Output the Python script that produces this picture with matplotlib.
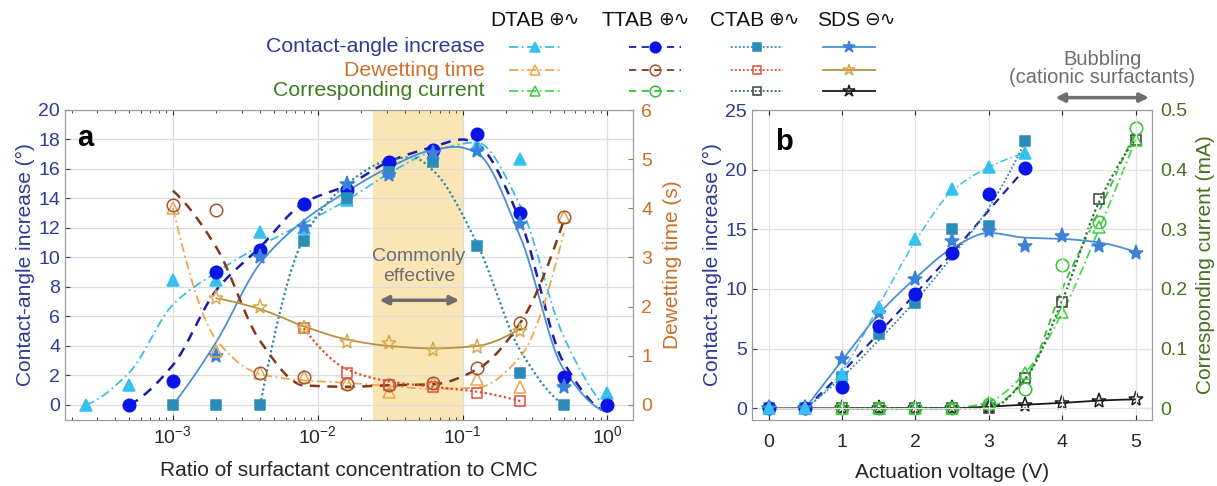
import numpy as np
import matplotlib
matplotlib.use('Agg')
import matplotlib.pyplot as plt

plt.rcParams['font.family'] = ['Liberation Sans', 'DejaVu Sans']

# ---------------- panel a : concentration series ----------------
conc = [2.5e-4, 5e-4, 1e-3, 2e-3, 4e-3, 8e-3, 0.016, 0.031, 0.0625, 0.125, 0.25, 0.5, 1.0]

ca_dtab = [0, 1.35, 8.5, 8.5, 11.7, 12.0, 13.9, 15.9, 17.1, 17.6, 16.7, 1.65, 0.79]
ca_ttab = [0, 1.6, 9.0, 10.5, 13.6, 14.6, 16.5, 17.3, 18.4, 13.0, 1.92, 0]
ca_ctab = [0, 0, 0, 11.1, 14.0, 15.8, 16.5, 10.8, 2.2, 0]
ca_sds = [3.3, 10.0, 12.1, 15.0, 15.6, 17.1, 17.2, 12.3, 1.24]

dw_dtab = [4.0, 1.1, 0.65, 0.56, 0.45, 0.27, 0.45, 0.53, 0.37, 3.83]
dw_ttab = [4.07, 3.97, 0.65, 0.56, 0.43, 0.41, 0.44, 0.75, 1.67, 3.82]
dw_ctab = [1.56, 0.64, 0.41, 0.37, 0.25, 0.08]
dw_sds = [2.17, 1.99, 1.56, 1.29, 1.27, 1.12, 1.17, 1.51]

# fitted curves
fit_ca_dtab_x = conc
fit_ca_dtab = [0, 2.2, 6.8, 9.0, 10.8, 12.3, 13.9, 15.7, 17.2, 17.8, 13.5, 4.6, -0.3]
fit_ca_ttab_x = [5e-4, 1e-3, 2e-3, 4e-3, 8e-3, 0.016, 0.031, 0.0625, 0.1, 0.125, 0.25, 0.5, 1.03]
fit_ca_ttab = [0, 2.7, 7.8, 10.7, 13.7, 14.9, 16.5, 17.5, 18.0, 17.7, 12.5, 2.85, -0.45]
fit_ca_ctab_x = [4e-3, 8e-3, 0.016, 0.031, 0.045, 0.0625, 0.125, 0.25, 0.5]
fit_ca_ctab = [0, 11.3, 15.0, 16.6, 16.8, 15.9, 11.0, 3.7, 0]
fit_ca_sds_x = [1e-3, 2e-3, 4e-3, 8e-3, 0.016, 0.031, 0.0625, 0.09, 0.125, 0.25, 0.5, 1.03]
fit_ca_sds = [0, 4.3, 9.6, 12.5, 14.5, 16.1, 17.3, 17.5, 17.1, 11.4, 2.4, -0.45]

fit_dw_dtab = [4.0, 1.32, 0.63, 0.5, 0.45, 0.38, 0.33, 0.35, 0.98, 3.5]
fit_dw_ttab = [4.36, 3.2, 1.3, 0.4, 0.37, 0.4, 0.42, 0.72, 1.67, 3.76]
fit_dw_ctab = [1.56, 0.72, 0.48, 0.37, 0.27, 0.08]
fit_dw_sds = [2.17, 1.95, 1.6, 1.33, 1.2, 1.15, 1.2, 1.55]

# ---------------- panel b : voltage series ----------------
volt = [0, 0.5, 1, 1.5, 2, 2.5, 3, 3.5, 4, 4.5, 5]

bca_dtab = [0, 0, 2.9, 8.5, 14.2, 18.4, 20.25, 21.4]
bca_ttab = [0, 0, 1.76, 6.9, 9.6, 13.0, 17.96, 20.1]
bca_ctab = [0, 0, 2.65, 6.2, 8.8, 15.0, 15.3, 22.4]
bca_sds = [0, 0, 4.1, 8.0, 10.8, 14.0, 14.9, 13.6, 14.4, 13.6, 13.0]

cur_dtab = [0, 0, 0, 0, 0.011, 0.059, 0.162, 0.304, 0.45]
cur_ttab = [0, 0, 0, 0, 0.008, 0.032, 0.24, 0.313, 0.469]
cur_ctab = [0, 0, 0, 0, 0, 0.05, 0.179, 0.35, 0.449]
cur_sds = [0, 0, 0, 0, 0, 0, 0.003, 0.006, 0.009, 0.013, 0.015]

bfit_ca_dtab = [0, 3.1, 8.6, 14.0, 18.2, 20.2, 21.4]
bfit_ca_ttab = [0, 3.0, 6.3, 9.6, 13.0, 16.6, 20.1]
bfit_ca_ctab = [0, 2.6, 5.7, 9.0, 12.7, 16.8, 22.4]
bfit_ca_sds = [0, 4.0, 7.9, 10.9, 13.4, 14.7, 14.3, 14.2, 13.9, 13.1]
bfit_cur_dtab = [0, 0, 0, 0, 0.011, 0.06, 0.16, 0.30, 0.45]
bfit_cur_ttab = [0, 0, 0, 0, 0.002, 0.05, 0.2, 0.33, 0.465]
bfit_cur_ctab = [0, 0, 0, 0, 0, 0.05, 0.18, 0.345, 0.45]

surf = ['DTAB', 'TTAB', 'CTAB', 'SDS']
heads = ['\u2295\u223f', '\u2295\u223f', '\u2295\u223f', '\u2296\u223f']

# styles: (line colour, linestyle, marker, marker face, marker edge, size)
CA = {'DTAB': ('#3BBCE8', (0, (5, 2, 1, 2)), '^', '#36C0F0', '#36C0F0', 9),
      'TTAB': ('#1C1CA8', (0, (4, 3)), 'o', '#0A14E6', '#0A14E6', 9),
      'CTAB': ('#2B88A8', (0, (1, 1.2)), 's', '#2A8CB8', '#2A8CB8', 7),
      'SDS': ('#4A8FD4', '-', '*', '#3C82DA', '#3C82DA', 11)}
DW = {'DTAB': ('#EFA64B', (0, (5, 2, 1, 2)), '^', 'none', '#E9A550', 9),
      'TTAB': ('#7E3A1C', (0, (4, 3)), 'o', 'none', '#A0552E', 9),
      'CTAB': ('#E04A2C', (0, (1, 1.2)), 's', 'none', '#E0503A', 7),
      'SDS': ('#B8903E', '-', '*', 'none', '#D8A848', 11)}
CU = {'DTAB': ('#4CD64C', (0, (5, 2, 1, 2)), '^', 'none', '#3CCB3C', 9),
      'TTAB': ('#33C233', (0, (4, 3)), 'o', 'none', '#33C233', 9),
      'CTAB': ('#2C6E2C', (0, (1, 1.2)), 's', 'none', '#404040', 7),
      'SDS': ('#1A1A1A', '-', '*', 'none', '#1A1A1A', 11)}


def pchip(x, y, xs):
    x = np.asarray(x, float)
    y = np.asarray(y, float)
    h = np.diff(x)
    d = np.diff(y) / h
    n = len(x)
    m = np.zeros(n)
    for k in range(1, n - 1):
        if d[k - 1] * d[k] > 0:
            w1 = 2 * h[k] + h[k - 1]
            w2 = h[k] + 2 * h[k - 1]
            m[k] = (w1 + w2) / (w1 / d[k - 1] + w2 / d[k])

    def end(h0, h1, d0, d1):
        mm = ((2 * h0 + h1) * d0 - h0 * d1) / (h0 + h1)
        if np.sign(mm) != np.sign(d0):
            mm = 0.0
        elif np.sign(d0) != np.sign(d1) and abs(mm) > abs(3 * d0):
            mm = 3 * d0
        return mm

    m[0] = end(h[0], h[1], d[0], d[1])
    m[-1] = end(h[-1], h[-2], d[-1], d[-2])
    i = np.clip(np.searchsorted(x, xs) - 1, 0, n - 2)
    t = (xs - x[i]) / h[i]
    return ((2 * t**3 - 3 * t**2 + 1) * y[i] + (t**3 - 2 * t**2 + t) * h[i] * m[i]
            + (-2 * t**3 + 3 * t**2) * y[i + 1] + (t**3 - t**2) * h[i] * m[i + 1])


def curve(ax, x, y, st, logx=False, lw=1.3):
    x = np.asarray(x, float)
    if logx:
        lx = np.log10(x)
        xs = np.linspace(lx[0], lx[-1], 300)
        ax.plot(10**xs, pchip(lx, y, xs), color=st[0], ls=st[1], lw=lw)
    else:
        xs = np.linspace(x[0], x[-1], 300)
        ax.plot(xs, pchip(x, y, xs), color=st[0], ls=st[1], lw=lw)


def pts(ax, x, y, st):
    ax.plot(x, y, ls='none', marker=st[2], mfc=st[3], mec=st[4], ms=st[5], mew=1.1)


NAVY = '#2E3A96'
ORANGE = '#C8702A'
GREEN = '#4A6E1E'
GREY = '#6E6E6E'

fig = plt.figure(figsize=(12.17, 4.86), dpi=100)

# legend layer in pixel coordinates
leg = fig.add_axes([0, 0, 1, 1])
leg.set_xlim(0, 1217)
leg.set_ylim(486, 0)
leg.axis('off')

axa = fig.add_axes([65 / 1217, 1 - 420 / 486, 568 / 1217, 310 / 486])
axa2 = axa.twinx()
axb = fig.add_axes([751.7 / 1217, 1 - 420 / 486, 400 / 1217, 310 / 486])
axb2 = axb.twinx()

# ---------- panel a ----------
axa.set_xscale('log')
axa.axvspan(0.024, 0.1, color='#FAE6B5', zorder=0.1, lw=0)
axa.set_axisbelow(True)
axa.grid(True, which='major', color='#DCDCDC', lw=0.9)

curve(axa, fit_ca_dtab_x, fit_ca_dtab, CA['DTAB'], True)
curve(axa, fit_ca_ttab_x, fit_ca_ttab, CA['TTAB'], True, lw=1.8)
curve(axa, fit_ca_ctab_x, fit_ca_ctab, CA['CTAB'], True, lw=1.6)
curve(axa, fit_ca_sds_x, fit_ca_sds, CA['SDS'], True)
pts(axa, conc, ca_dtab, CA['DTAB'])
pts(axa, conc[1:], ca_ttab, CA['TTAB'])
pts(axa, conc[2:12], ca_ctab, CA['CTAB'])
pts(axa, conc[3:12], ca_sds, CA['SDS'])

curve(axa2, conc[2:12], fit_dw_dtab, DW['DTAB'], True)
curve(axa2, conc[2:12], fit_dw_ttab, DW['TTAB'], True, lw=1.8)
curve(axa2, conc[5:11], fit_dw_ctab, DW['CTAB'], True, lw=1.6)
curve(axa2, conc[3:11], fit_dw_sds, DW['SDS'], True)
pts(axa2, conc[2:12], dw_dtab, DW['DTAB'])
pts(axa2, conc[2:12], dw_ttab, DW['TTAB'])
pts(axa2, conc[5:11], dw_ctab, DW['CTAB'])
pts(axa2, conc[3:11], dw_sds, DW['SDS'])

axa.set_xlim(1.8e-4, 1.5)
axa.set_ylim(-1.02, 20)
axa.set_yticks(range(0, 21, 2))
axa2.set_ylim(-0.306, 6)
axa2.set_yticks(range(0, 7))

axa.annotate('', xy=(0.0255, 7.1), xytext=(0.099, 7.1),
             arrowprops=dict(arrowstyle='<|-|>', color=GREY, lw=2.5, mutation_scale=13))
axa.text(0.05, 9.4, 'Commonly\neffective', ha='center', va='center', color=GREY,
         fontsize=14, linespacing=1.25)
axa.text(0.021, 0.91, 'a', transform=axa.transAxes, fontsize=21, fontweight='bold',
         va='center')

axa.set_xlabel('Ratio of surfactant concentration to CMC', fontsize=15, color='#262626',
               labelpad=10)
axa.set_ylabel('Contact-angle increase (\u00b0)', fontsize=15, color=NAVY, labelpad=2)
axa2.set_ylabel('Dewetting time (s)', fontsize=15, color=ORANGE, labelpad=8)

# ---------- panel b ----------
axb.set_zorder(axb2.get_zorder() + 1)
axb.patch.set_visible(False)
axb2.grid(False)

curve(axb2, volt[2:], bfit_cur_dtab, CU['DTAB'])
curve(axb2, volt[2:], bfit_cur_ttab, CU['TTAB'])
curve(axb2, volt[2:], bfit_cur_ctab, CU['CTAB'], lw=1.6)
curve(axb2, volt, cur_sds, CU['SDS'])
pts(axb2, volt, cur_sds, CU['SDS'])
pts(axb2, volt[2:], cur_ctab, CU['CTAB'])
pts(axb2, volt[2:], cur_ttab, CU['TTAB'])
pts(axb2, volt[2:], cur_dtab, CU['DTAB'])

axb.grid(True, color='#E2E2E2', lw=0.9)
axb.set_axisbelow(True)
curve(axb, volt[1:8], bfit_ca_dtab, CA['DTAB'], lw=1.1)
curve(axb, volt[1:8], bfit_ca_ttab, CA['TTAB'], lw=1.5)
curve(axb, volt[1:8], bfit_ca_ctab, CA['CTAB'], lw=1.3)
curve(axb, volt[1:], bfit_ca_sds, CA['SDS'])
pts(axb, volt[:8], bca_ctab, CA['CTAB'])
pts(axb, volt[:8], bca_ttab, CA['TTAB'])
pts(axb, volt, bca_sds, CA['SDS'])
pts(axb, volt[:8], bca_dtab, CA['DTAB'])

axb.set_xlim(-0.23, 5.22)
axb.set_ylim(-0.98, 25)
axb.set_yticks(range(0, 26, 5))
axb.set_xticks(range(0, 6))
axb2.set_ylim(-0.0196, 0.5)
axb2.set_yticks([0, 0.1, 0.2, 0.3, 0.4, 0.5])
axb2.set_yticklabels(['0', '0.1', '0.2', '0.3', '0.4', '0.5'])

axb.text(0.058, 0.897, 'b', transform=axb.transAxes, fontsize=21, fontweight='bold',
         va='center')
axb.annotate('', xy=(3.87, 1.04), xytext=(5.22, 1.04),
             xycoords=('data', 'axes fraction'), textcoords=('data', 'axes fraction'),
             arrowprops=dict(arrowstyle='<|-|>', color=GREY, lw=2.5, mutation_scale=13))
axb.text(4.55, 1.134, 'Bubbling\n(cationic surfactants)', transform=axb.get_xaxis_transform(),
         ha='center', va='center', color=GREY, fontsize=14.5, linespacing=0.95)

axb.set_xlabel('Actuation voltage (V)', fontsize=15, color='#262626', labelpad=9)
axb.set_ylabel('Contact-angle increase (\u00b0)', fontsize=15, color=NAVY, labelpad=2)
axb2.set_ylabel('Corresponding current (mA)', fontsize=15, color=GREEN, labelpad=6)

# ---------- common axis styling ----------
for ax, ax2, rc in ((axa, axa2, ORANGE), (axb, axb2, GREEN)):
    ax.tick_params(which='both', direction='in', top=True, right=False,
                   labelsize=14, colors='#262626')
    ax.tick_params(axis='y', which='both', colors=NAVY)
    ax2.tick_params(axis='y', direction='in', labelsize=14, colors=rc, pad=6)
    for a in (ax, ax2):
        for s in a.spines.values():
            s.set_color('#9A9A9A')
axb.tick_params(axis='x', pad=10)

# ---------- legend block ----------
cols = [535, 655, 757, 849]
heads_x = [490, 602, 710, 817]
rows = [47, 70, 91]
row_lab = ['Contact-angle increase', 'Dewetting time', 'Corresponding current']
row_col = ['#2E3A96', '#D0702E', '#3E7A1E']
for r, (lab, c) in enumerate(zip(row_lab, row_col)):
    leg.text(485, rows[r], lab, ha='right', va='center', fontsize=15.3, color=c)
for i, s in enumerate(surf):
    t = leg.text(heads_x[i], 20, s, ha='left', va='center', fontsize=15, color='#111111')
    leg.annotate(heads[i], xy=(1, 0.5), xycoords=t, xytext=(3, 0),
                 textcoords='offset points', ha='left', va='center', fontsize=13.5,
                 color='#111111')
    for r, st in enumerate((CA[s], DW[s], CU[s])):
        leg.plot([cols[i] - 26, cols[i] + 26], [rows[r], rows[r]], color=st[0], ls=st[1],
                 lw=1.3)
        leg.plot(cols[i], rows[r], marker=st[2], mfc=st[3], mec=st[4], ms=st[5] * 0.85,
                 mew=1.1)

fig.savefig('out.png', dpi=100)
